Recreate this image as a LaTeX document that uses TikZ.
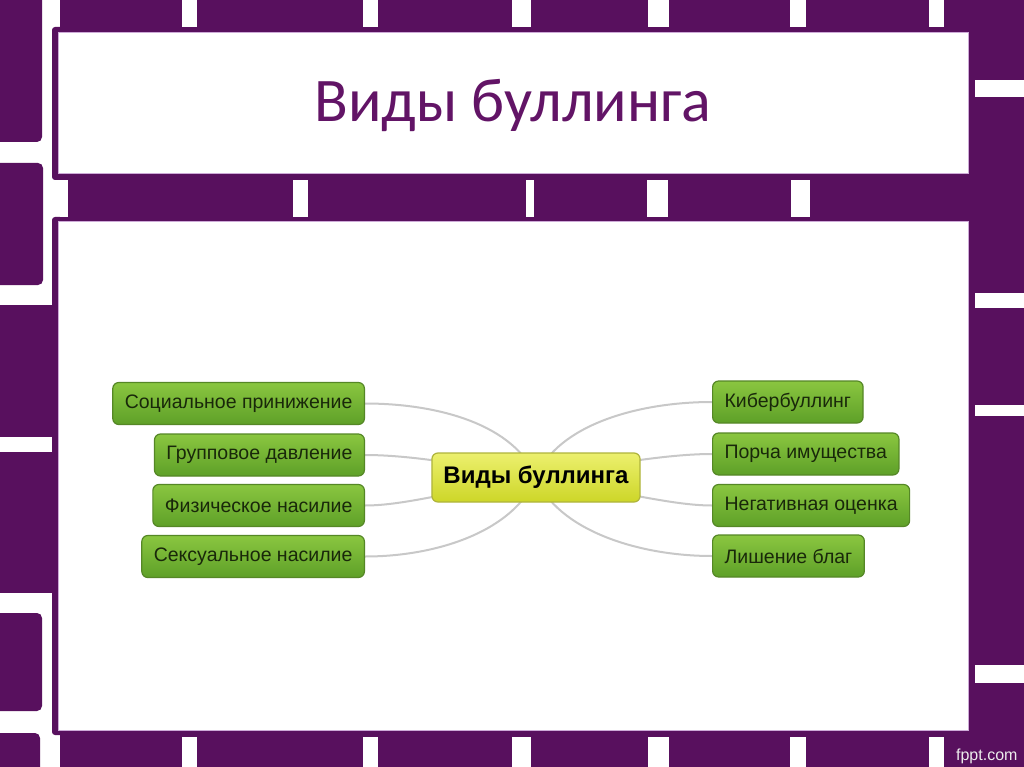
\documentclass[tikz,border=0pt]{standalone}
\usepackage{fontspec}
\setmainfont{Carlito}
\newfontfamily\arialfont{Liberation Sans}
\usetikzlibrary{positioning}
\definecolor{slidePurple}{RGB}{88,16,94}
\definecolor{titlePurple}{RGB}{98,20,102}
\definecolor{boxLine}{RGB}{205,170,215}
\definecolor{leafTop}{RGB}{138,198,64}
\definecolor{leafBot}{RGB}{94,160,40}
\definecolor{leafLine}{RGB}{85,135,38}
\definecolor{leafText}{RGB}{25,40,10}
\definecolor{hubTop}{RGB}{236,240,110}
\definecolor{hubBot}{RGB}{205,214,40}
\definecolor{hubLine}{RGB}{175,180,60}
\definecolor{linkGray}{RGB}{200,200,200}
\pgfdeclarelayer{bg}
\pgfdeclarelayer{links}
\pgfsetlayers{bg,links,main}
\tikzset{
  leaf/.style = {draw=leafLine, line width=1.2, rounded corners=6, top color=leafTop, bottom color=leafBot,
                 text=leafText, font=\arialfont\fontsize{19.5}{23}\selectfont, minimum height=42, inner xsep=12},
  hub/.style  = {draw=hubLine, line width=1.2, rounded corners=6, top color=hubTop, bottom color=hubBot,
                 text=black, font=\arialfont\bfseries\fontsize{24}{28}\selectfont, minimum height=49, inner xsep=11.5},
  link/.style = {draw=linkGray, line width=2}
}

\begin{document}
\begin{tikzpicture}[x=1pt, y=-1pt]
  \useasboundingbox (0,0) rectangle (1024,767);

  % slide background
  \begin{pgfonlayer}{bg}
    \clip (0,0) rectangle (1024,767);
    \fill[white] (0,0) rectangle (1024,767);
    \fill[slidePurple] (60,0) rectangle (1024,767);
    \fill[slidePurple, rounded corners=3] (52,27) rectangle (70,180);
    \fill[slidePurple, rounded corners=3] (52,217) rectangle (70,735);

    \fill[slidePurple, rounded corners=5] (-10,-10) rectangle (42,142);
    \fill[slidePurple, rounded corners=5] (-10,163) rectangle (43,285);
    \fill[slidePurple] (-10,305) rectangle (58,437);
    \fill[slidePurple] (-10,452) rectangle (58,593);
    \fill[slidePurple, rounded corners=5] (-10,613) rectangle (42,711);
    \fill[slidePurple, rounded corners=5] (-10,733) rectangle (40,777);

    \fill[white] (60,180) rectangle (68,217);
    \foreach \a/\b in {182/197, 363/378, 512/531, 648/669, 790/806, 929/944} {
      \fill[white] (\a,-1) rectangle (\b,27);
      \fill[white] (\a,737) rectangle (\b,768);
    }
    \foreach \a/\b in {293/308, 526/534, 647/668, 791/810}
      \fill[white] (\a,180) rectangle (\b,217);
    \foreach \a/\b in {80/97, 293/308, 405/416, 665/683}
      \fill[white] (975,\a) rectangle (1025,\b);

    \draw[boxLine, fill=white, line width=1] (58,33) rectangle (968,174);
    \draw[boxLine, fill=white, line width=1] (58,222) rectangle (968,730);
  \end{pgfonlayer}

  \node[anchor=base, text=titlePurple, font=\fontsize{62}{70}\selectfont] (title) at (513,122) {Виды буллинга};
  \node[anchor=base east, text=white!85!gray, font=\arialfont\fontsize{16}{18}\selectfont] (site) at (1021,760) {fppt.com};

  \node[hub] (hub) at (536,477.5) {Виды буллинга};

  \node[leaf, anchor=east] (social) at (365,403.5) {Социальное принижение};
  \node[leaf, anchor=east] (group)  at (365,455)   {Групповое давление};
  \node[leaf, anchor=east] (phys)   at (365,505.5) {Физическое насилие};
  \node[leaf, anchor=east] (sexual) at (365,556.5) {Сексуальное насилие};

  \node[leaf, anchor=west] (cyber)  at (712,402)   {Кибербуллинг};
  \node[leaf, anchor=west] (damage) at (712,454)   {Порча имущества};
  \node[leaf, anchor=west] (rating) at (712,505.5) {Негативная оценка};
  \node[leaf, anchor=west] (depriv) at (712,556)   {Лишение благ};

  \begin{pgfonlayer}{links}
    \draw[link] (social.east) .. controls +(75,0) and +(-21,-52) .. (hub.center);
    \draw[link] (group.east)  .. controls +(40,0) and +(-80,-15) .. (hub.center);
    \draw[link] (phys.east)   .. controls +(40,0) and +(-80,13)  .. (hub.center);
    \draw[link] (sexual.east) .. controls +(75,0) and +(-21,52)  .. (hub.center);
    \draw[link] (cyber.west)  .. controls +(-75,0) and +(21,-52) .. (hub.center);
    \draw[link] (damage.west) .. controls +(-40,0) and +(80,-15) .. (hub.center);
    \draw[link] (rating.west) .. controls +(-40,0) and +(80,13)  .. (hub.center);
    \draw[link] (depriv.west) .. controls +(-75,0) and +(21,52)  .. (hub.center);
  \end{pgfonlayer}
\end{tikzpicture}
\end{document}
